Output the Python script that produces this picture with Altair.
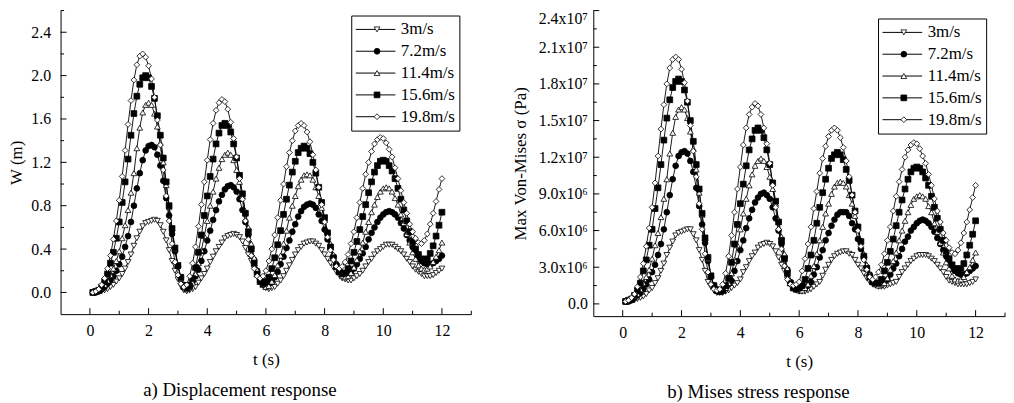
import altair as alt
import pandas as pd

FONT = "Liberation Serif"

series_names = ["3m/s", "7.2m/s", "11.4m/s", "15.6m/s", "19.8m/s"]
marker_shapes = ["triangle-down", "circle", "triangle-up", "square", "diamond"]
marker_fills = ["white", "black", "white", "black", "white"]

# time stamps 0.1 s ... 12.0 s
t = [round(0.1 * i, 1) for i in range(1, 121)]

# ---- a) displacement W (m) ----
w_3 = [0.00,0.00,0.01,0.01,0.02,0.03,0.05,0.07,0.10,0.13,
       0.17,0.22,0.28,0.35,0.43,0.50,0.56,0.61,0.64,0.65,
       0.66,0.67,0.66,0.62,0.56,0.48,0.39,0.29,0.20,0.12,
       0.06,0.02,0.01,0.02,0.03,0.05,0.09,0.13,0.17,0.22,
       0.28,0.33,0.38,0.42,0.46,0.50,0.52,0.53,0.54,0.53,
       0.51,0.47,0.41,0.35,0.29,0.22,0.16,0.11,0.06,0.04,
       0.03,0.04,0.05,0.08,0.11,0.15,0.20,0.25,0.30,0.35,
       0.39,0.42,0.45,0.46,0.47,0.47,0.45,0.43,0.39,0.35,
       0.31,0.27,0.23,0.19,0.16,0.13,0.12,0.11,0.11,0.13,
       0.15,0.17,0.20,0.24,0.28,0.31,0.35,0.38,0.40,0.42,
       0.44,0.44,0.44,0.42,0.40,0.38,0.35,0.31,0.28,0.24,
       0.21,0.19,0.17,0.15,0.15,0.15,0.16,0.18,0.20,0.22]
w_72 = [0.00,0.00,0.01,0.03,0.05,0.08,0.11,0.15,0.20,0.26,
        0.33,0.42,0.52,0.65,0.80,0.96,1.10,1.22,1.31,1.35,
        1.36,1.34,1.27,1.17,1.03,0.87,0.71,0.54,0.38,0.24,
        0.14,0.07,0.06,0.07,0.10,0.15,0.21,0.29,0.38,0.48,
        0.57,0.67,0.76,0.84,0.90,0.95,0.98,0.99,0.97,0.93,
        0.86,0.76,0.65,0.53,0.41,0.30,0.20,0.13,0.09,0.07,
        0.08,0.10,0.14,0.19,0.26,0.33,0.41,0.48,0.56,0.63,
        0.70,0.75,0.79,0.81,0.82,0.81,0.78,0.72,0.66,0.58,
        0.49,0.41,0.33,0.26,0.20,0.17,0.16,0.17,0.19,0.22,
        0.26,0.31,0.36,0.42,0.49,0.55,0.60,0.65,0.69,0.72,
        0.74,0.75,0.74,0.72,0.69,0.64,0.59,0.53,0.48,0.42,
        0.37,0.32,0.29,0.27,0.26,0.26,0.27,0.29,0.31,0.34]
w_114 = [0.00,0.01,0.02,0.04,0.07,0.11,0.16,0.22,0.29,0.38,
         0.50,0.62,0.76,0.92,1.10,1.33,1.52,1.66,1.73,1.75,
         1.73,1.65,1.53,1.38,1.20,0.99,0.79,0.59,0.40,0.25,
         0.13,0.05,0.03,0.05,0.09,0.17,0.27,0.39,0.52,0.66,
         0.80,0.93,1.05,1.15,1.23,1.27,1.29,1.27,1.22,1.13,
         1.02,0.89,0.75,0.60,0.45,0.32,0.21,0.12,0.07,0.05,
         0.06,0.10,0.16,0.25,0.34,0.45,0.57,0.69,0.80,0.89,
         0.98,1.04,1.08,1.09,1.08,1.04,0.97,0.89,0.78,0.67,
         0.56,0.45,0.35,0.26,0.19,0.15,0.14,0.15,0.18,0.23,
         0.30,0.38,0.46,0.56,0.65,0.74,0.81,0.88,0.93,0.96,
         0.97,0.96,0.93,0.87,0.81,0.72,0.64,0.54,0.46,0.37,
         0.31,0.25,0.22,0.21,0.22,0.24,0.28,0.33,0.39,0.46]
w_156 = [0.00,0.01,0.02,0.05,0.10,0.17,0.27,0.37,0.50,0.65,
         0.83,1.02,1.23,1.45,1.65,1.81,1.92,1.98,2.00,1.98,
         1.90,1.79,1.63,1.45,1.24,1.02,0.80,0.59,0.41,0.25,
         0.14,0.06,0.04,0.06,0.13,0.23,0.37,0.53,0.71,0.89,
         1.07,1.23,1.37,1.47,1.54,1.56,1.54,1.48,1.37,1.24,
         1.08,0.91,0.73,0.56,0.40,0.27,0.17,0.10,0.08,0.10,
         0.14,0.22,0.32,0.44,0.57,0.72,0.86,0.99,1.11,1.21,
         1.29,1.33,1.35,1.33,1.28,1.20,1.10,0.97,0.83,0.69,
         0.55,0.42,0.32,0.24,0.19,0.17,0.18,0.22,0.29,0.37,
         0.47,0.58,0.70,0.81,0.92,1.02,1.11,1.17,1.21,1.22,
         1.21,1.17,1.12,1.05,0.96,0.86,0.76,0.66,0.56,0.47,
         0.40,0.35,0.31,0.30,0.31,0.36,0.43,0.52,0.62,0.74]
w_198 = [0.00,0.01,0.03,0.07,0.13,0.22,0.34,0.49,0.66,0.85,
         1.07,1.31,1.55,1.77,1.96,2.10,2.18,2.20,2.17,2.09,
         1.97,1.80,1.59,1.36,1.13,0.89,0.66,0.45,0.28,0.16,
         0.08,0.05,0.07,0.15,0.27,0.42,0.61,0.81,1.02,1.22,
         1.41,1.56,1.68,1.75,1.78,1.76,1.69,1.57,1.42,1.25,
         1.05,0.86,0.66,0.49,0.34,0.22,0.15,0.13,0.15,0.20,
         0.29,0.40,0.53,0.69,0.85,1.00,1.16,1.29,1.40,1.49,
         1.54,1.56,1.54,1.48,1.39,1.27,1.13,0.97,0.81,0.65,
         0.51,0.39,0.30,0.24,0.22,0.24,0.28,0.35,0.45,0.56,
         0.69,0.83,0.96,1.09,1.20,1.30,1.37,1.41,1.43,1.42,
         1.38,1.32,1.25,1.15,1.05,0.94,0.83,0.73,0.63,0.56,
         0.50,0.46,0.45,0.48,0.54,0.63,0.73,0.84,0.95,1.05]

# ---- b) max Von-Mises stress, in units of 10^6 Pa ----
s_3 = [0.2,0.2,0.3,0.3,0.4,0.5,0.6,0.8,1.1,1.3,
       1.7,2.1,2.7,3.3,4.0,4.6,5.1,5.6,5.8,5.9,
       6.0,6.1,6.1,5.7,5.2,4.4,3.6,2.7,1.8,1.4,
       1.1,0.9,0.9,0.9,1.0,1.1,1.3,1.5,1.7,2.0,
       2.6,3.0,3.5,3.9,4.2,4.6,4.8,4.9,5.0,4.9,
       4.7,4.3,3.8,3.2,2.7,2.0,1.6,1.4,1.1,1.0,
       1.0,1.0,1.1,1.2,1.4,1.6,1.8,2.3,2.8,3.2,
       3.6,3.9,4.1,4.2,4.3,4.3,4.1,4.0,3.6,3.2,
       2.9,2.5,2.1,1.8,1.6,1.5,1.4,1.4,1.4,1.5,
       1.6,1.7,1.8,2.2,2.6,2.9,3.2,3.5,3.7,3.9,
       4.0,4.0,4.0,3.9,3.7,3.5,3.2,2.9,2.6,2.2,
       1.9,1.8,1.7,1.6,1.6,1.6,1.6,1.7,1.8,2.0]
s_72 = [0.2,0.2,0.3,0.5,0.7,0.9,1.2,1.6,2.0,2.6,
        3.2,4.0,4.9,6.1,7.5,8.9,10.2,11.3,12.1,12.4,
        12.5,12.3,11.7,10.8,9.5,8.0,6.5,5.0,3.5,2.2,
        1.5,1.2,1.1,1.2,1.3,1.6,1.9,2.7,3.5,4.4,
        5.2,6.2,7.0,7.7,8.3,8.7,9.0,9.1,8.9,8.6,
        7.9,7.0,6.0,4.9,3.8,2.8,1.8,1.5,1.3,1.2,
        1.2,1.3,1.5,1.8,2.4,3.0,3.8,4.4,5.2,5.8,
        6.4,6.9,7.3,7.5,7.5,7.5,7.2,6.6,6.1,5.3,
        4.5,3.8,3.0,2.4,1.8,1.7,1.6,1.7,1.8,2.0,
        2.4,2.9,3.3,3.9,4.5,5.1,5.5,6.0,6.3,6.6,
        6.8,6.9,6.8,6.6,6.3,5.9,5.4,4.9,4.4,3.9,
        3.4,2.9,2.7,2.5,2.4,2.4,2.5,2.7,2.9,3.1]
s_114 = [0.2,0.3,0.4,0.6,0.8,1.2,1.7,2.2,2.8,3.7,
         4.8,5.8,7.1,8.6,10.2,12.3,14.0,15.3,15.9,16.1,
         15.9,15.2,14.1,12.7,11.0,9.1,7.3,5.4,3.7,2.3,
         1.5,1.1,1.0,1.1,1.3,1.7,2.5,3.6,4.8,6.1,
         7.4,8.6,9.7,10.6,11.3,11.7,11.9,11.7,11.2,10.4,
         9.4,8.2,6.9,5.5,4.1,2.9,1.9,1.4,1.2,1.1,
         1.1,1.3,1.6,2.3,3.1,4.1,5.2,6.3,7.4,8.2,
         9.0,9.6,9.9,10.0,9.9,9.6,8.9,8.2,7.2,6.2,
         5.2,4.1,3.2,2.4,1.8,1.6,1.5,1.6,1.7,2.1,
         2.8,3.5,4.2,5.2,6.0,6.8,7.5,8.1,8.6,8.8,
         8.9,8.8,8.6,8.0,7.5,6.6,5.9,5.0,4.2,3.4,
         2.9,2.3,2.0,1.9,2.0,2.2,2.6,3.0,3.6,4.2]
s_156 = [0.2,0.3,0.4,0.7,1.1,1.7,2.7,3.6,4.8,6.1,
         7.8,9.5,11.4,13.4,15.2,16.7,17.7,18.2,18.4,18.2,
         17.5,16.5,15.0,13.3,11.4,9.4,7.4,5.4,3.8,2.3,
         1.5,1.1,1.0,1.1,1.5,2.1,3.4,4.9,6.5,8.2,
         9.8,11.3,12.6,13.5,14.2,14.4,14.2,13.6,12.6,11.4,
         9.9,8.4,6.7,5.2,3.7,2.5,1.7,1.3,1.2,1.3,
         1.5,2.0,2.9,4.0,5.2,6.6,7.9,9.1,10.2,11.1,
         11.9,12.2,12.4,12.2,11.8,11.0,10.1,8.9,7.6,6.3,
         5.1,3.9,2.9,2.2,1.8,1.7,1.7,2.0,2.7,3.4,
         4.3,5.3,6.4,7.5,8.5,9.4,10.2,10.8,11.1,11.2,
         11.1,10.8,10.3,9.7,8.8,7.9,7.0,6.1,5.2,4.3,
         3.7,3.2,2.9,2.8,2.9,3.3,4.0,4.8,5.7,6.8]
s_198 = [0.2,0.3,0.5,0.8,1.4,2.2,3.3,4.7,6.2,7.9,
         9.9,12.1,14.3,16.3,18.0,19.3,20.0,20.2,20.0,19.2,
         18.1,16.6,14.6,12.5,10.4,8.2,6.1,4.1,2.6,1.6,
         1.2,1.1,1.2,1.6,2.5,3.9,5.6,7.5,9.4,11.2,
         13.0,14.4,15.5,16.1,16.4,16.2,15.5,14.4,13.1,11.5,
         9.7,7.9,6.1,4.5,3.1,2.0,1.6,1.5,1.6,1.8,
         2.7,3.7,4.9,6.3,7.8,9.2,10.7,11.9,12.9,13.7,
         14.2,14.4,14.2,13.6,12.8,11.7,10.4,8.9,7.5,6.0,
         4.7,3.6,2.8,2.2,2.0,2.2,2.6,3.2,4.1,5.2,
         6.3,7.6,8.8,10.0,11.0,12.0,12.6,13.0,13.2,13.1,
         12.7,12.1,11.5,10.6,9.7,8.6,7.6,6.7,5.8,5.2,
         4.6,4.2,4.1,4.4,5.0,5.8,6.7,7.7,8.7,9.7]

x_major = [0, 2, 4, 6, 8, 10, 12]
x_minor = [1, 3, 5, 7, 9, 11, 13]
w_major = [0.0, 0.4, 0.8, 1.2, 1.6, 2.0, 2.4]
w_minor = [0.2, 0.6, 1.0, 1.4, 1.8, 2.2, 2.6]
s_major = [0, 3, 6, 9, 12, 15, 18, 21, 24]
s_minor = [1.5, 4.5, 7.5, 10.5, 13.5, 16.5, 19.5, 22.5]

# keys of the line legend carry a prefix so that its scale stays apart from the marker legends
line_keys = ["L:" + n for n in series_names]
open_idx = [0, 2, 4]
filled_idx = [1, 3]
MSIZE = 34
LEG_PAD = 4


def long_df(value_lists):
    rows = []
    for name, key, vals in zip(series_names, line_keys, value_lists):
        for ti, v in zip(t, vals):
            rows.append({"t": ti, "v": v, "series": name, "line_series": key})
    return pd.DataFrame(rows)


def panel(df, ydomain, yvalues, ylabel_expr, ytitle, ymaj, ymin, width, height,
          caption, leg_x, leg_y, lab_pad, title_pad, flush):
    xscale = alt.Scale(domain=[-1, 13], nice=False, zero=False)
    yscale = alt.Scale(domain=ydomain, nice=False, zero=False)
    xaxis = alt.Axis(values=x_major, format="d", title="t (s)", ticks=False,
                     labelPadding=9, titlePadding=13, labelFlush=False)
    yaxis = alt.Axis(values=yvalues, labelExpr=ylabel_expr, title=ytitle, ticks=False,
                     labelPadding=lab_pad, titlePadding=title_pad, labelFlush=flush)
    X = alt.X("t:Q", scale=xscale, axis=xaxis)
    Y = alt.Y("v:Q", scale=yscale, axis=yaxis)

    lines = alt.Chart(df).mark_line(strokeWidth=0.9).encode(
        x=X, y=Y,
        color=alt.Color("line_series:N", sort=line_keys,
                        scale=alt.Scale(range=["black"] * 5),
                        legend=alt.Legend(orient="none", legendX=leg_x, legendY=leg_y,
                                          title=None, symbolType="stroke", symbolSize=1600,
                                          symbolStrokeWidth=1, labelFont=FONT,
                                          labelExpr="substring(datum.label, 2)",
                                          labelAlign="left",
                                          labelFontSize=17, labelColor="black",
                                          labelOffset=5, strokeColor="black",
                                          fillColor="white", padding=LEG_PAD, rowPadding=2,
                                          clipHeight=20)),
        order=alt.Order("t:Q"),
    )

    # one marker layer per series, drawn in legend order
    point_layers = []
    for name, shp, fl in zip(series_names, marker_shapes, marker_fills):
        point_layers.append(
            alt.Chart(df[df["series"] == name]).mark_point(
                filled=True, shape=shp, fill=fl, stroke="black", strokeWidth=0.8,
                size=MSIZE, opacity=1).encode(x=X, y=Y))

    # marker symbols for the legend (open ones on rows 1,3,5 and filled ones on rows 2,4)
    def marker_legend(idx, fl, dy):
        names = [series_names[i] for i in idx]
        shps = [marker_shapes[i] for i in idx]
        first = df[df["series"].isin(names)].groupby("series", as_index=False).first()
        return alt.Chart(first).mark_point(
            filled=True, fill=fl, stroke="black", strokeWidth=0.8, size=MSIZE, opacity=0
        ).encode(
            x=X, y=Y,
            shape=alt.Shape("series:N", scale=alt.Scale(domain=names, range=shps),
                            legend=alt.Legend(orient="none", legendX=leg_x + 17,
                                              legendY=leg_y + dy, title=None,
                                              symbolSize=MSIZE, symbolFillColor=fl,
                                              symbolStrokeWidth=0.8, symbolOpacity=1,
                                              labelExpr="''", padding=LEG_PAD,
                                              rowPadding=24, clipHeight=20)),
        )

    leg_open = marker_legend(open_idx, "white", 0)
    leg_filled = marker_legend(filled_idx, "black", 22)

    ytick_major = alt.Chart(pd.DataFrame({"v": ymaj})).mark_rule(
        color="black", strokeWidth=1).encode(y=Y, x=alt.value(0), x2=alt.value(6))
    ytick_minor = alt.Chart(pd.DataFrame({"v": ymin})).mark_rule(
        color="black", strokeWidth=1).encode(y=Y, x=alt.value(0), x2=alt.value(3.5))
    xtick_major = alt.Chart(pd.DataFrame({"t": x_major})).mark_rule(
        color="black", strokeWidth=1).encode(x=X, y=alt.value(height),
                                              y2=alt.value(height - 6))
    xtick_minor = alt.Chart(pd.DataFrame({"t": x_minor})).mark_rule(
        color="black", strokeWidth=1).encode(x=X, y=alt.value(height),
                                              y2=alt.value(height - 3.5))
    return alt.layer(
        lines, ytick_major, ytick_minor, xtick_major, xtick_minor,
        *point_layers, leg_open, leg_filled
    ).resolve_scale(shape="independent").resolve_legend(shape="independent").properties(
        width=width, height=height,
        title=alt.TitleParams(caption, orient="bottom", font=FONT, fontSize=19,
                              fontWeight="normal", color="black", offset=14,
                              anchor="middle", frame="bounds"),
    )


df_w = long_df([w_3, w_72, w_114, w_156, w_198])
df_s = long_df([s_3, s_72, s_114, s_156, s_198])

left = panel(df_w, [-0.2, 2.6], w_major, "format(datum.value, '.1f')", "W (m)",
             w_major, w_minor, 414, 306, "a) Displacement response", 293, 5, 10, 5, False)

s_expr = ("datum.value == 0 ? '0.0' : (datum.value < 10 ? format(datum.value, '.1f') + 'x10\u2076'"
          " : format(datum.value / 10, '.1f') + 'x10\u2077')")
right = panel(df_s, [-1, 24], s_major, s_expr, "Max Von-Mises \u03c3 (Pa)",
              s_major, s_minor, 415, 308, "b) Mises stress response", 287, 8, 6, 9, True)

chart = alt.hconcat(left, right, spacing=39).resolve_scale(
    color="independent", shape="independent"
).resolve_legend(
    color="independent", shape="independent"
).configure_view(stroke=None).configure_axis(
    grid=False, domainColor="black", domainWidth=1, labelFont=FONT, labelFontSize=16,
    labelColor="black", titleFont=FONT, titleFontSize=17, titleFontWeight="normal",
    titleColor="black"
).configure_legend(labelFont=FONT).properties(background="white", padding=0)

chart.save("out.html", embed_options={"renderer": "svg", "actions": False})
